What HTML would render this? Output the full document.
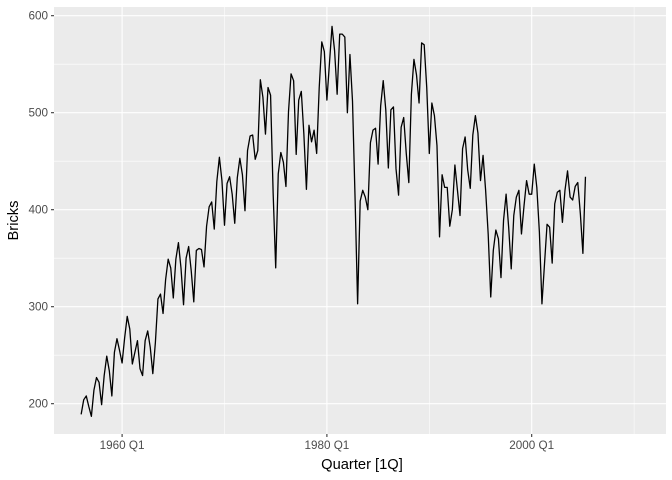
<!DOCTYPE html>
<html><head><meta charset="utf-8"><style>
body{margin:0;background:#fff;}
svg{display:block;font-family:"Liberation Sans",sans-serif;}
</style></head><body>
<svg id="s" width="672" height="480" xmlns="http://www.w3.org/2000/svg">
<rect x="0" y="0" width="672" height="480" fill="#fff"/>
<rect x="54" y="7" width="612" height="427" fill="#ebebeb"/>
<g id="grid"></g>
<path id="line" fill="none" stroke="#000" stroke-width="1.3" stroke-linejoin="round"/>
<g id="ticks" fill="#4d4d4d" font-size="11.7"></g>
<text x="362" y="469" font-size="14.7" text-anchor="middle">Quarter [1Q]</text>
<text transform="translate(18,220.5) rotate(-90)" font-size="14.7" text-anchor="middle">Bricks</text>
</svg>
<script>
var d=[189,204,208,197,187,214,227,222,199,229,249,234,208,253,267,255,242,268,290,277,241,253,265,236,229,265,275,258,231,263,308,313,293,328,349,340,309,349,366,340,302,350,362,337,305,358,360,359,341,383,403,408,380,429,454,430,384,427,434,416,386,433,453,436,399,461,476,477,452,461,534,516,478,526,518,417,340,437,459,449,424,501,540,533,457,513,522,478,421,487,470,482,458,526,573,563,513,551,589,564,519,581,581,578,500,560,512,412,303,409,420,413,400,469,482,484,447,507,533,503,443,503,506,442,
415,485,495,458,428,519,555,539,510,572,570,526,458,510,497,466,372,436,423,423,383,400,446,420,394,463,475,441,422,477,497,479,430,456,420,375,310,358,379,370,330,389,416,382,339,394,413,420,375,404,430,416,416,447,423,377,303,344,385,382,345,406,418,420,387,420,440,413,410,424,428,396,355,434];
function X(t){return 122.1+(t-1960)*10.24;}
function Y(v){return 112.7-(v-500)*0.97;}
var p="";for(var i=0;i<d.length;i++){p+=(i?"L":"M")+X(1956+i/4).toFixed(2)+","+Y(d[i]).toFixed(2);}
document.getElementById("line").setAttribute("d",p);
var g="",ns="";
[250,350,450,550].forEach(function(v){g+='<line x1="54" x2="666" y1="'+Y(v)+'" y2="'+Y(v)+'" stroke="#fff" stroke-width="0.53"/>';});
[1970,1990,2010].forEach(function(t){g+='<line y1="7" y2="434" x1="'+X(t)+'" x2="'+X(t)+'" stroke="#fff" stroke-width="0.53"/>';});
[200,300,400,500,600].forEach(function(v){g+='<line x1="54" x2="666" y1="'+Y(v)+'" y2="'+Y(v)+'" stroke="#fff" stroke-width="1.07"/>';
 ns+='<line x1="51" x2="54" y1="'+Y(v)+'" y2="'+Y(v)+'" stroke="#333" stroke-width="1.07"/><text x="48" y="'+(Y(v)+4)+'" text-anchor="end">'+v+'</text>';});
[1960,1980,2000].forEach(function(t){g+='<line y1="7" y2="434" x1="'+X(t)+'" x2="'+X(t)+'" stroke="#fff" stroke-width="1.07"/>';
 ns+='<line y1="434" y2="437" x1="'+X(t)+'" x2="'+X(t)+'" stroke="#333" stroke-width="1.07"/><text x="'+X(t)+'" y="449" text-anchor="middle">'+t+' Q1</text>';});
document.getElementById("grid").innerHTML=g;
document.getElementById("ticks").innerHTML=ns;
</script>
</body></html>
